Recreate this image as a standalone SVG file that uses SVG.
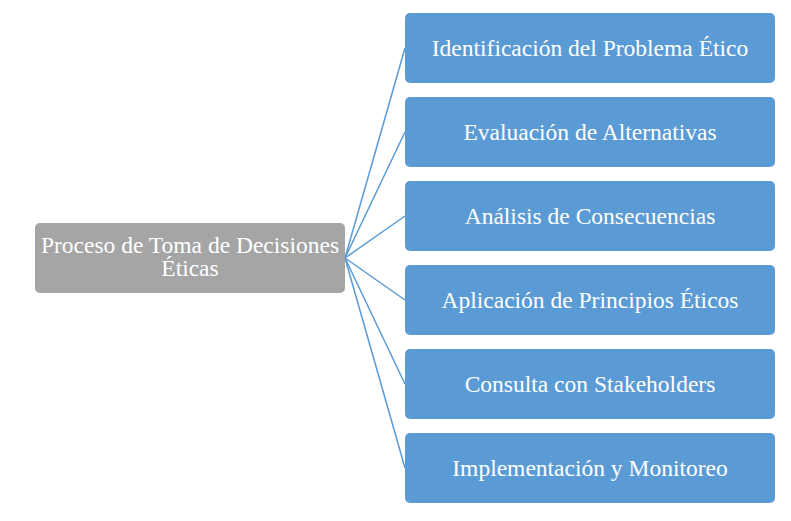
<svg xmlns="http://www.w3.org/2000/svg" width="791" height="521" viewBox="0 0 791 521">
<style>
.box{fill:#5B9BD5;}
.root{fill:#A5A5A5;}
.t{font-family:"Liberation Serif","Times New Roman",serif;font-size:23.5px;fill:#FFFFFF;text-anchor:middle;}
.c{stroke:#5B9BD5;stroke-width:1.5;fill:none;}
</style>
<rect width="791" height="521" fill="#FFFFFF"/>
<g id="connectors">
<line class="c" x1="345" y1="258" x2="405" y2="48"/>
<line class="c" x1="345" y1="258" x2="405" y2="132"/>
<line class="c" x1="345" y1="258" x2="405" y2="216"/>
<line class="c" x1="345" y1="258" x2="405" y2="300"/>
<line class="c" x1="345" y1="258" x2="405" y2="384"/>
<line class="c" x1="345" y1="258" x2="405" y2="468"/>
</g>
<g id="root">
<rect class="root" x="35" y="223" width="310" height="70" rx="5"/>
<text class="t"><tspan x="190" y="252.5">Proceso de Toma de Decisiones</tspan><tspan x="190" y="276">Éticas</tspan></text>
</g>
<g id="n1">
<rect class="box" x="405" y="13" width="370" height="70" rx="5"/>
<text class="t" x="590" y="55.5">Identificación del Problema Ético</text>
</g>
<g id="n2">
<rect class="box" x="405" y="97" width="370" height="70" rx="5"/>
<text class="t" x="590" y="139.5">Evaluación de Alternativas</text>
</g>
<g id="n3">
<rect class="box" x="405" y="181" width="370" height="70" rx="5"/>
<text class="t" x="590" y="223.5">Análisis de Consecuencias</text>
</g>
<g id="n4">
<rect class="box" x="405" y="265" width="370" height="70" rx="5"/>
<text class="t" x="590" y="307.5">Aplicación de Principios Éticos</text>
</g>
<g id="n5">
<rect class="box" x="405" y="349" width="370" height="70" rx="5"/>
<text class="t" x="590" y="391.5">Consulta con Stakeholders</text>
</g>
<g id="n6">
<rect class="box" x="405" y="433" width="370" height="70" rx="5"/>
<text class="t" x="590" y="475.5">Implementación y Monitoreo</text>
</g>
</svg>
